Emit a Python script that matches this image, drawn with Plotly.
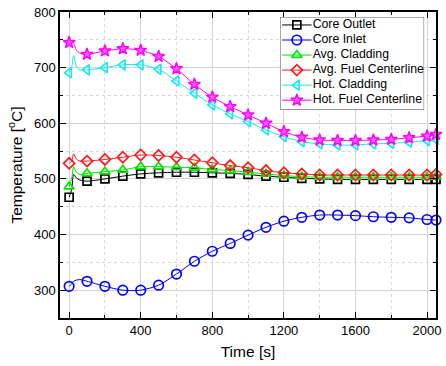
import plotly.graph_objects as go

# ---- data ----
time_markers = [0, 100, 200, 300, 400, 500, 600, 700, 800, 900, 1000,
                1100, 1200, 1300, 1400, 1500, 1600, 1700, 1800, 1900, 2000, 2050]

core_outlet = [467, 496, 500, 505, 509, 511, 512, 512, 511, 510, 508,
               505, 503, 501, 500, 499, 499, 499, 499, 499, 499, 499]
core_inlet = [307, 316, 307, 300, 300, 309, 329, 352, 370, 384, 399,
              413, 424, 431, 435, 435, 434, 432, 431, 430, 427, 426]
avg_cladding = [486, 510, 513, 516, 522, 522, 521, 520, 517, 515, 512,
                509, 506, 504, 503, 503, 503, 503, 503, 503, 503, 504]
avg_fuel = [528, 532, 535, 539, 543, 542, 539, 534, 529, 524, 520,
            515, 511, 509, 507, 507, 507, 507, 507, 507, 507, 508]
hot_cladding = [691, 696, 700, 705, 705, 697, 676, 654, 633, 617, 603,
                588, 576, 567, 563, 561, 561, 563, 564, 566, 569, 571]
hot_fuel = [745, 724, 730, 734, 731, 720, 698, 670, 647, 630, 615,
            600, 585, 575, 570, 569, 569, 570, 571, 574, 577, 580]

# early transient (line only, no markers)
time_early = [0, 15, 25, 40, 60]
core_outlet_early = [467, 482, 508, 502, 498]
core_inlet_early = [307, 312, 316, 318, 319]
avg_cladding_early = [486, 502, 522, 512, 508]
avg_fuel_early = [528, 532, 545, 536, 532]
hot_cladding_early = [691, 702, 722, 703, 696]
hot_fuel_early = [745, 746, 744, 732, 726]

series_names = ["Core Outlet", "Core Inlet", "Avg. Cladding",
                "Avg. Fuel Centerline", "Hot. Cladding", "Hot. Fuel Centerline"]
series_values = [core_outlet, core_inlet, avg_cladding, avg_fuel, hot_cladding, hot_fuel]
series_early = [core_outlet_early, core_inlet_early, avg_cladding_early,
                avg_fuel_early, hot_cladding_early, hot_fuel_early]

# ---- styles ----
colors = ["black", "#0000ff", "#00e600", "#ff1a1a", "#1ee6f0", "#ff00ff"]
symbols = ["square-open", "circle-open", "triangle-up-open", "diamond-open",
           "triangle-left-open", "star"]
sizes = [8, 9.5, 9, 8.5, 9, 9]


def marker_style(i):
    if symbols[i] == "star":
        return dict(symbol="star", size=sizes[i], color="#ff5cff",
                    line=dict(color=colors[i], width=1.4))
    return dict(symbol=symbols[i], size=sizes[i], color=colors[i],
                line=dict(color=colors[i], width=1.7))


fig = go.Figure()
for i, name in enumerate(series_names):
    lx = time_early + time_markers[1:]
    ly = series_early[i] + series_values[i][1:]
    fig.add_trace(go.Scatter(x=lx, y=ly, mode="lines",
                             line=dict(color=colors[i], width=1, shape="spline", smoothing=0.8),
                             showlegend=False, hoverinfo="skip"))
    fig.add_trace(go.Scatter(x=time_markers, y=series_values[i], mode="markers",
                             marker=marker_style(i), name=name,
                             showlegend=False, cliponaxis=False))

# ---- hand-drawn legend in its own small subplot (pixel-like units) ----
LEG_W, LEG_H = 146, 93
ROW0, ROW_STEP = 8, 15.1
fig.add_trace(go.Scatter(x=[0, LEG_W, LEG_W, 0, 0], y=[0, 0, LEG_H, LEG_H, 0],
                         mode="lines", fill="toself", fillcolor="white",
                         line=dict(color="#555555", width=1), cliponaxis=False,
                         xaxis="x3", yaxis="y3", showlegend=False, hoverinfo="skip"))
for i, name in enumerate(series_names):
    yy = LEG_H - (ROW0 + ROW_STEP * i)
    fig.add_trace(go.Scatter(x=[2, 32], y=[yy, yy], mode="lines",
                             line=dict(color=colors[i], width=1), cliponaxis=False,
                             xaxis="x3", yaxis="y3", showlegend=False, hoverinfo="skip"))
    fig.add_trace(go.Scatter(x=[17], y=[yy], mode="markers", marker=marker_style(i),
                             cliponaxis=False,
                             xaxis="x3", yaxis="y3", showlegend=False, hoverinfo="skip"))
    fig.add_trace(go.Scatter(x=[33], y=[yy], mode="text", text=[name],
                             textposition="middle right", cliponaxis=False,
                             textfont=dict(size=12.3, color="black"),
                             xaxis="x3", yaxis="y3", showlegend=False, hoverinfo="skip"))

fnt = "Liberation Sans, Arial, sans-serif"
L, R, T, B = 60, 5, 11, 48
PW, PH = 446 - L - R, 366 - T - B
leg_x0 = (283 - L) / PW
leg_y1 = 1 - (16 - T) / PH

fig.update_layout(
    width=446, height=366,
    margin=dict(l=L, r=R, t=T, b=B),
    plot_bgcolor="white", paper_bgcolor="white",
    font=dict(family=fnt, size=13, color="black"),
    showlegend=False,
    xaxis=dict(range=[-51, 2050], tick0=0, dtick=400, ticks="inside", ticklen=6, tickwidth=1,
               tickcolor="black", showline=True, linecolor="black", linewidth=1.5, mirror="ticks",
               showgrid=True, gridcolor="#d4d4d4", gridwidth=1, zeroline=False,
               tickfont=dict(size=13),
               minor=dict(dtick=200, ticks="inside", ticklen=3, tickcolor="black",
                          showgrid=True, gridcolor="#d8d8d8", griddash="dot", gridwidth=1),
               title=dict(text="Time [s]", font=dict(size=15.5), standoff=9)),
    yaxis=dict(range=[250, 800], tick0=0, dtick=100, ticks="inside", ticklen=6, tickwidth=1,
               tickcolor="black", showline=True, linecolor="black", linewidth=1.5, mirror="ticks",
               showgrid=True, gridcolor="#d4d4d4", gridwidth=1, zeroline=False,
               tickfont=dict(size=13),
               minor=dict(dtick=50, ticks="inside", ticklen=3, tickcolor="black",
                          showgrid=True, gridcolor="#d8d8d8", griddash="dot", gridwidth=1),
               title=dict(text="Temperature [<sup>o</sup>C]", font=dict(size=15.5), standoff=8)),
    xaxis3=dict(domain=[leg_x0, leg_x0 + LEG_W / PW], range=[0, LEG_W], anchor="y3",
                visible=False, fixedrange=True),
    yaxis3=dict(domain=[leg_y1 - LEG_H / PH, leg_y1], range=[0, LEG_H], anchor="x3",
                visible=False, fixedrange=True),
)

fig.write_html("out.html")
